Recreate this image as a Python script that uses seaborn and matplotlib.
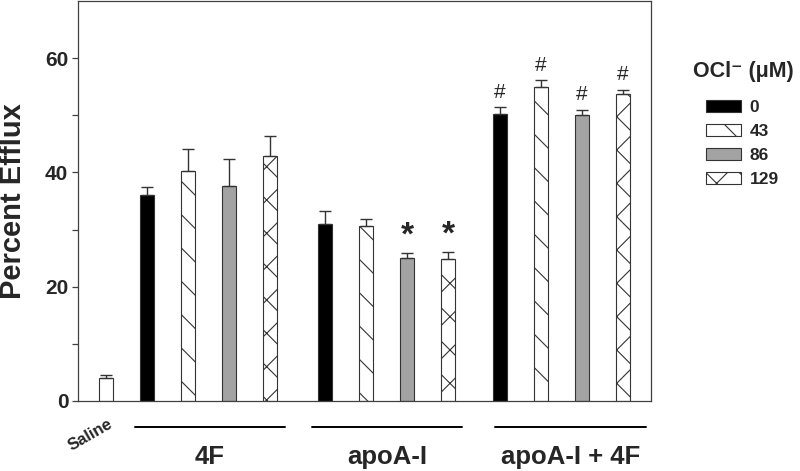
import matplotlib
matplotlib.use('Agg')
import matplotlib.pyplot as plt
from matplotlib.patches import Patch
import matplotlib.transforms as mtransforms
import seaborn as sns
import pandas as pd
import numpy as np

# values
groups = ['4F', 'apoA-I', 'apoA-I + 4F']
ocl_levels = ['0', '43', '86', '129']
saline_mean = 4.1
saline_err = 0.4
means_4f = [36.0, 40.2, 37.7, 42.8]
err_4f = [1.4, 3.9, 4.6, 3.6]
means_apoa = [31.0, 30.7, 25.0, 24.8]
err_apoa = [2.2, 1.2, 0.9, 1.3]
means_combo = [50.2, 54.9, 50.1, 53.7]
err_combo = [1.2, 1.2, 0.9, 0.8]
star_marks = [('apoA-I', '86'), ('apoA-I', '129')]
hash_marks = [('apoA-I + 4F', lvl) for lvl in ocl_levels]

fills = {'0': 'black', '43': 'white', '86': '#a3a3a3', '129': 'white', 'saline': 'white'}
hatches = {'0': '', '43': '\\', '86': '', '129': 'x', 'saline': ''}
group_offsets = [1.0, 5.34, 9.61]

rows = [{'pos': 0.0, 'value': saline_mean, 'err': saline_err, 'group': 'Saline', 'level': 'saline'}]
for g, off, m, e in zip(groups, group_offsets, [means_4f, means_apoa, means_combo], [err_4f, err_apoa, err_combo]):
    for j, lvl in enumerate(ocl_levels):
        rows.append({'pos': off + j, 'value': m[j], 'err': e[j], 'group': g, 'level': lvl})
df = pd.DataFrame(rows)

sns.set_theme(style='ticks')
plt.rcParams['font.family'] = ['Liberation Sans', 'DejaVu Sans']
plt.rcParams['font.weight'] = 'bold'
plt.rcParams['hatch.linewidth'] = 0.8

fig = plt.figure(figsize=(8, 4.71), dpi=100)
ax = fig.add_axes([78 / 800, 1 - 401 / 471, (651 - 78) / 800, 400 / 471])

sns.barplot(data=df, x='pos', y='value', native_scale=True, width=0.34,
            errorbar=None, color='white', edgecolor='#333333', linewidth=0.8, ax=ax)

for p in ax.patches:
    cx = p.get_x() + p.get_width() / 2
    row = df.iloc[(df['pos'] - cx).abs().argmin()]
    p.set_facecolor(fills[row['level']])
    p.set_hatch(hatches[row['level']])
    p.set_edgecolor('#333333')

ax.errorbar(df['pos'], df['value'], yerr=[np.zeros(len(df)), df['err']], fmt='none',
            ecolor='#333333', elinewidth=1, capsize=4.3, capthick=1)

for g, lvl in star_marks:
    r = df[(df['group'] == g) & (df['level'] == lvl)].iloc[0]
    ax.annotate('*', (r['pos'], r['value'] + r['err']), xytext=(0, 1), textcoords='offset points',
                ha='center', va='bottom', fontsize=24, fontweight='bold')
for g, lvl in hash_marks:
    r = df[(df['group'] == g) & (df['level'] == lvl)].iloc[0]
    ax.annotate('#', (r['pos'], r['value'] + r['err']), xytext=(0, 11), textcoords='offset points',
                ha='center', va='center', fontsize=15, fontweight='normal')

ax.set_xlim(-0.683, 13.29)
ax.set_ylim(0, 70)
ax.set_yticks([0, 20, 40, 60])
ax.set_yticks([10, 30, 50], minor=True)
ax.set_xticks([])
ax.set_xlabel('')
ax.tick_params(axis='y', which='both', direction='out', length=4, width=0.9, color='#404040',
               labelsize=15, pad=3)
for lab in ax.get_yticklabels():
    lab.set_fontweight('bold')
for sp in ax.spines.values():
    sp.set_visible(True)
    sp.set_linewidth(0.9)
    sp.set_color('#404040')

ax.set_ylabel('Percent Efflux', fontsize=21, fontweight='bold', va='center')
ax.yaxis.set_label_coords(-0.113, 0.5)

# group underlines and labels
trans = mtransforms.blended_transform_factory(ax.transData, ax.transAxes)
line_spans = [(0.707, 4.37), (5.02, 8.68), (9.49, 13.17)]
for g, (x0, x1) in zip(groups, line_spans):
    ax.plot([x0, x1], [-0.065, -0.065], color='black', lw=1.4, transform=trans, clip_on=False)
    ax.text((x0 + x1) / 2, -0.14, g, transform=trans, ha='center', va='center',
            fontsize=18.5, fontweight='bold')
ax.text(-0.39, -0.085, 'Saline', transform=trans, ha='center', va='center', rotation=30,
        fontsize=12, fontweight='bold')

# legend
fig.text(743 / 800, 1 - 72 / 471, 'OCl⁻ (μM)', ha='center', va='center', fontsize=15.5, fontweight='bold')
handles = [Patch(facecolor=fills[l], edgecolor='#333333', hatch=hatches[l], linewidth=0.8) for l in ocl_levels]
leg = fig.legend(handles, ocl_levels, loc='upper left', bbox_to_anchor=(706 / 800, 1 - 100 / 471),
                 frameon=False, borderpad=0, borderaxespad=0, handlelength=2.0, handleheight=0.7,
                 labelspacing=0.5, handletextpad=0.5, prop={'size': 12.5, 'weight': 'bold'})

fig.savefig('out.png', dpi=100)
